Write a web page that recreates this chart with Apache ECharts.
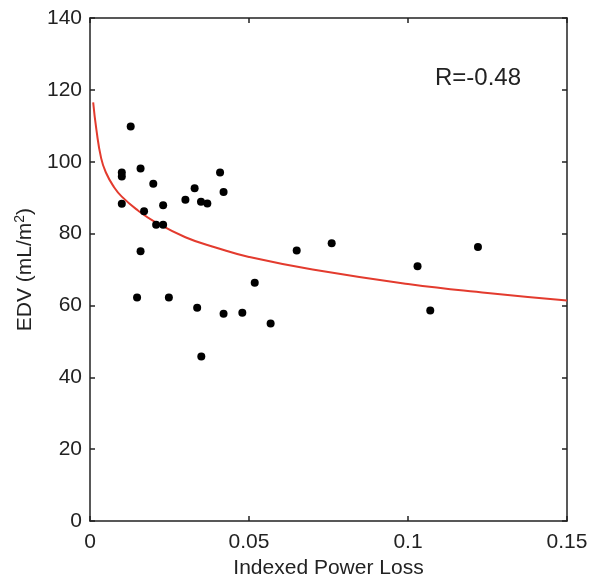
<!DOCTYPE html>
<html>
<head>
<meta charset="utf-8">
<script src="https://cdn.jsdelivr.net/npm/echarts@6/dist/echarts.min.js"></script>
<style>html,body{margin:0;padding:0;background:#fff;}#c{width:600px;height:584px;}</style>
</head>
<body>
<div id="c"></div>
<script>
var powerLoss = [0.0128,0.0100,0.0100,0.0100,0.0159,0.0199,0.0170,0.0230,0.0208,0.0230,0.0159,0.0148,0.0248,0.0300,0.0329,0.0349,0.0369,0.0409,0.0420,0.0337,0.0420,0.0479,0.0350,0.0518,0.0568,0.0650,0.0760,0.1030,0.1070,0.1220];
var edv = [109.8,97.0,95.9,88.3,98.1,93.9,86.2,87.9,82.5,82.5,75.1,62.2,62.2,89.4,92.6,88.9,88.4,97.0,91.6,59.4,57.7,58.0,45.8,66.3,55.0,75.3,77.3,70.9,58.6,76.3];
var fitX = [0.001,0.002,0.0035,0.005,0.0075,0.01,0.015,0.02,0.03,0.04,0.05,0.07,0.1,0.125,0.15];
var fitY = [116.5,109,101,97,93,90.3,86.5,83.5,79,76,73.5,70,66,63.5,61.4];
var xTicks = [0,0.05,0.1,0.15];
var xTickLabels = ['0','0.05','0.1','0.15'];
var yTicks = [0,20,40,60,80,100,120,140];
var rLabel = 'R=-0.48';

var chart = echarts.init(document.getElementById('c'));
var scatterData = powerLoss.map(function(x,i){return [x, edv[i]];});
var fitData = fitX.map(function(x,i){return [x, fitY[i]];});
var font = 'Liberation Sans, Arial, sans-serif';
var axisCommon = {
  axisLine:{show:true,onZero:false,lineStyle:{color:'#222',width:1.5}},
  axisTick:{show:true,inside:true,length:5,lineStyle:{color:'#222',width:1.5}},
  splitLine:{show:false}
};
chart.setOption({
  animation:false,
  grid:{left:90,right:33,top:18,bottom:62},
  xAxis:[
    Object.assign({type:'value',min:0,max:0.15,interval:0.05,position:'bottom',
      name:'Indexed Power Loss',nameLocation:'middle',nameGap:34,
      nameTextStyle:{fontFamily:font,fontSize:21,color:'#222'},
      axisLabel:{fontFamily:font,fontSize:21,color:'#222',margin:11,
        formatter:function(v){var i=xTicks.indexOf(Math.round(v*100)/100);return i>=0?xTickLabels[i]:'';}}
    },axisCommon),
    Object.assign({type:'value',min:0,max:0.15,interval:0.05,position:'top',axisLabel:{show:false}},axisCommon)
  ],
  yAxis:[
    Object.assign({type:'value',min:0,max:140,interval:20,position:'left',
      name:'{a|EDV (mL/m}{b|2}{a|)}',nameLocation:'middle',nameGap:53,nameRotate:90,
      nameTextStyle:{rich:{a:{fontFamily:font,fontSize:21,color:'#222'},b:{fontFamily:font,fontSize:14,color:'#222',verticalAlign:'top',padding:[0,0,10,0]}}},
      axisLabel:{fontFamily:font,fontSize:21,color:'#222',margin:8}
    },axisCommon),
    Object.assign({type:'value',min:0,max:140,interval:20,position:'right',axisLabel:{show:false}},axisCommon)
  ],
  graphic:[{type:'text',left:435,top:66,style:{text:rLabel,fontFamily:font,fontSize:24,fill:'#222'}}],
  series:[
    {type:'line',data:fitData,smooth:true,symbol:'none',lineStyle:{color:'#e33b2e',width:2},z:2},
    {type:'scatter',data:scatterData,symbolSize:8,itemStyle:{color:'#000',opacity:1},z:3}
  ]
});
</script>
</body>
</html>
